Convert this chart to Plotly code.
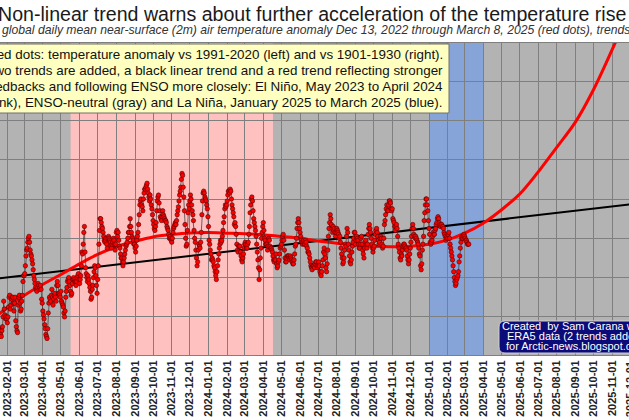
import plotly.graph_objects as go
import pandas as pd

# ---------------- data ----------------
# daily anomaly vs 1991-2020 (deg C), split into segments with their start dates
seg0_start = "2022-12-13"
seg0 = [0.40,0.42,0.39,0.36,0.34,0.37,0.41,0.44,0.43,0.40,0.38,0.35,0.33,0.36,0.39,0.42,0.45,0.47,0.44,0.41,
        0.38,0.36,0.34,0.37,0.40,0.43,0.41,0.38,0.36,0.39,0.42,0.44,0.41,0.38,0.35,0.33,0.32,0.34]
seg1_start = "2023-01-20"
seg1 = [0.33,0.31,0.30,0.33,0.35,0.40,0.48,0.44,0.41,0.39,
        0.40,0.39,0.37,0.40,0.45,0.50,0.51,0.44,0.46,0.49,
        0.50,0.50,0.47,0.43,0.47,0.50,0.38,0.35,0.33,0.32,
        0.46,0.50,0.51,0.47,0.43,0.44,0.48,0.51,0.58,0.61,
        0.61,0.62,0.66,0.71,0.74,0.75,0.78,0.80,0.81,0.78,
        0.74,0.72,0.71,0.69,0.67,0.64,0.61,0.59,0.57,0.55,
        0.54,0.53,0.55,0.57,0.56,0.54,0.55,0.56,0.54,0.49,
        0.47,0.43,0.41,0.39,0.36,0.34,0.31,0.30,0.29,0.34,
        0.42,0.47,0.50,0.49,0.48,0.51,0.54,0.50,0.46,0.49,
        0.51,0.52,0.50,0.48,0.56,0.58,0.56,0.52,0.52,0.51,
        0.50,0.53,0.48,0.47,0.46,0.45,0.42,0.40,0.43,0.50,
        0.53,0.55,0.58,0.59,0.60,0.58,0.56,0.53,0.51,0.52,
        0.57,0.59,0.60,0.59,0.58,0.58,0.56,0.58,0.60,0.61,0.62]
seg2_start = "2023-05-31"
seg2 = [0.59,0.57,0.59,0.61,0.66,0.73,0.72,0.77,0.83,0.86,
        0.73,0.65,0.62,0.60,0.58,0.61,0.59,0.57,0.55,0.53,
        0.49,0.50,0.54,0.56,0.60,0.63,0.66,0.65,0.61,0.56,
        0.52,0.59,0.66,0.77,0.84,0.90,0.90,0.88,0.86,0.85,
        0.83,0.81,0.79,0.78,0.79,0.80,0.77,0.75,0.80,0.81,
        0.80,0.79,0.78,0.76,0.75,0.77,0.78,0.80,0.79,0.77,
        0.74,0.77,0.83,0.84,0.81,0.83,0.79,0.76,0.75,0.72,
        0.70,0.70,0.68,0.66,0.68,0.70,0.72,0.74,0.76,0.77,
        0.78,0.80,0.83,0.83,0.86,0.90,0.86,0.83,0.81,0.80,
        0.79,0.77,0.77,0.75,0.73,0.76,0.79,0.81,0.83,0.87,
        0.92,0.97,0.99,1.00,0.97,0.96,0.94,1.00,1.03,1.05,
        1.05,1.06,1.07,1.08,1.05,1.03,1.01,0.99,1.02,1.00,
        0.97,0.95,0.92,0.89,0.87,0.85,0.84,0.86,0.88]
seg3_start = "2023-10-07"
seg3 = [0.94,0.99,1.01,1.02,0.98,0.94,0.91,0.90,0.89,0.91,
        0.94,0.92,0.91,0.90,0.89,0.89,0.88,0.86,0.85,0.84,
        0.82,0.80,0.81,0.80,0.79,0.78,0.80,0.83,0.85,0.86,
        0.87,0.88,0.87,0.89,0.92,0.94,0.96,0.99,1.02,1.04,
        1.06,1.10,1.13,1.12,1.06,1.01,0.94,0.87,0.80,0.76,
        0.77,0.84,0.93,0.97,0.95,0.99,1.02,1.00,0.97,0.94,
        0.92,0.89,0.84,0.80,0.78,0.74,0.70,0.66,0.68,0.74,
        0.77,0.76,0.75,0.78,0.83,0.92,0.99,1.03,1.04,1.03,
        1.01,1.00,0.99,0.97,0.95,0.91,0.86,0.79,0.77,0.74,
        0.72,0.69,0.70,0.69,0.68,0.66,0.65,0.63,0.61,0.59,
        0.63,0.66,0.69,0.72,0.75,0.77,0.79,0.78,0.79,0.81,
        0.84,0.88,0.91,0.95,0.97,0.96,0.97,0.99,1.02,1.04,
        1.04,1.03,1.05,1.04,1.00,0.97,0.95,0.93,0.91,0.87,0.88]
seg4_start = "2024-02-15"
seg4 = [0.86,0.82,0.77,0.74,0.73,0.76,0.76,0.76,0.73,0.71,
        0.69,0.68,0.70,0.72,0.75,0.77,0.78,0.77,0.75,0.75,
        0.77,0.78,0.82,0.86,0.93,0.97,1.00,1.01,0.99,0.94,
        0.90,0.88,0.86,0.84,0.81,0.77,0.73,0.69,0.65,0.59,
        0.64,0.70,0.75,0.80,0.83,0.86,0.88,0.84,0.80,0.79,
        0.77,0.77,0.77,0.74,0.76,0.80,0.79,0.76,0.75,0.75,
        0.74,0.73,0.71,0.69,0.68,0.69,0.69,0.72,0.67,0.65,
        0.66,0.68,0.69,0.72,0.75,0.76,0.77,0.79,0.81,0.82,
        0.79,0.74,0.70,0.68,0.68,0.70,0.71,0.71,0.71,0.70,
        0.69,0.71,0.70,0.69,0.68,0.67,0.67,0.69,0.72,0.76,
        0.77,0.80,0.85,0.88,0.90,0.88,0.85,0.83,0.81,0.79,
        0.78,0.77,0.78,0.79,0.77,0.77,0.79,0.78,0.76,0.75,
        0.73,0.73,0.72,0.70,0.68,0.66,0.65,0.64,0.66]
seg5_start = "2024-06-23"
seg5 = [0.66,0.66,0.65,0.67,0.68,0.68,0.66,0.65,0.66,0.68,
        0.66,0.63,0.62,0.61,0.63,0.66,0.69,0.73,0.75,0.72,
        0.70,0.65,0.63,0.67,0.74,0.81,0.85,0.88,0.92,0.90,
        0.87,0.85,0.83,0.86,0.84,0.85,0.83,0.81,0.83,0.85,
        0.84,0.83,0.82,0.80,0.81,0.78,0.75,0.72,0.70,0.67,
        0.68,0.70,0.74,0.77,0.76,0.81,0.85,0.83,0.77,0.74,
        0.71,0.68,0.67,0.69,0.73,0.76,0.78,0.80,0.83,0.83,
        0.77,0.79,0.81,0.80,0.79,0.77,0.75,0.75,0.77,0.80,
        0.81,0.77,0.74,0.72,0.70,0.75,0.78,0.79,0.77,0.75,
        0.77,0.82,0.85,0.87,0.85,0.83,0.80,0.77,0.75,0.73,
        0.75,0.76,0.79,0.82,0.84,0.85,0.83,0.81,0.79,0.77,
        0.78,0.80,0.81,0.80,0.77,0.75,0.76,0.80,0.87,0.89,
        0.92,0.95,0.97,0.94,0.94,0.97,0.99,0.99]
seg6_start = "2024-10-29"
seg6 = [0.98,0.95,0.94,0.95,0.90,0.89,0.88,0.86,0.84,0.86,
        0.87,0.85,0.81,0.77,0.75,0.73,0.70,0.69,0.72,0.71,
        0.74,0.76,0.77,0.77,0.76,0.75,0.75,0.74,0.71,0.69,
        0.67,0.69,0.72,0.75,0.78,0.81,0.85,0.87,0.85,0.82,
        0.81,0.80,0.81,0.80,0.79,0.78,0.77,0.75,0.72,0.71,
        0.66,0.64,0.67,0.74,0.77,0.81,0.89,0.93,0.97,1.00,
        1.00,0.97,0.94,0.89,0.85,0.82,0.78,0.77,0.78,0.79,
        0.81,0.83,0.82,0.82,0.84,0.85,0.87,0.88,0.90,0.91,
        0.90,0.88,0.87,0.86,0.87,0.87,0.86,0.86,0.85,0.83,
        0.82,0.81,0.79,0.80,0.81,0.80,0.82,0.83,0.80,0.77,
        0.75,0.73,0.71,0.69,0.66,0.63,0.60,0.58,0.56,0.57,
        0.59,0.60,0.61,0.63,0.68,0.71,0.75,0.78,0.80,0.81,
        0.80,0.81,0.82,0.81,0.80,0.79,0.79,0.78,0.77,0.77,0.77]

segments = [(seg0_start, seg0), (seg1_start, seg1), (seg2_start, seg2), (seg3_start, seg3),
            (seg4_start, seg4), (seg5_start, seg5), (seg6_start, seg6)]

# red (non-linear) trend, read at month starts
red_trend_dates = ["2022-12-13"] + [d.strftime("%Y-%m-%d") for d in pd.date_range("2023-01-01", "2025-12-01", freq="MS")]
red_trend_vals = [0.32, 0.37, 0.448, 0.509, 0.566, 0.616, 0.670, 0.718, 0.757, 0.785, 0.807, 0.819, 0.827,
                  0.829, 0.826, 0.823, 0.818, 0.809, 0.800, 0.786, 0.775, 0.766, 0.759, 0.757, 0.760,
                  0.770, 0.792, 0.826, 0.877, 0.944, 1.027, 1.137, 1.263, 1.391, 1.556, 1.76, 1.97]

# black linear trend
black_trend_dates = ["2022-12-13", "2025-12-31"]
black_trend_vals = [0.583, 0.984]

# ENSO periods
el_nino = ("2023-05-17", "2024-04-17")
la_nina = ("2025-01-01", "2025-04-01")

# last (partly visible) month label, beyond the visible range
edge_tick_label = "2025-12-01"

title_text = "Non-linear trend warns about further acceleration of the temperature rise"
subtitle_text = ("global daily mean near-surface (2m) air temperature anomaly Dec 13, 2022 through "
                 "March 8, 2025 (red dots), trends added")
box_lines = ["Red dots: temperature anomaly vs 1991-2020 (left) and vs 1901-1930 (right).",
             "Two trends are added, a black linear trend and a red trend reflecting stronger",
             "feedbacks and following ENSO more closely: El Niño, May 2023 to April 2024",
             "(pink), ENSO-neutral (gray) and La Niña, January 2025 to March 2025 (blue)."]
credit_lines = ["Created  by Sam Carana with", "ERA5 data (2 trends added)", "for Arctic-news.blogspot.com"]

# ---------------- figure ----------------
W, H = 629, 420
MT, MB = 43, 65
PH = H - MT - MB
FONT = "Liberation Sans, Arial, sans-serif"
X_START = pd.Timestamp("2023-01-19 21:00")
X_END = pd.Timestamp("2025-11-29 00:00")

def px(x):
    return x / W

def py(y):
    return (H - MB - y) / PH

def date_to_paper(d):
    return (pd.Timestamp(d) - X_START) / (X_END - X_START)

dates, vals = [], []
for start, seg in segments:
    dates += list(pd.date_range(start, periods=len(seg), freq="D"))
    vals += seg

fig = go.Figure()
fig.add_trace(go.Scatter(x=black_trend_dates, y=black_trend_vals, mode="lines",
                         line=dict(color="#000000", width=2), hoverinfo="skip"))
fig.add_trace(go.Scatter(x=red_trend_dates, y=red_trend_vals, mode="lines",
                         line=dict(color="#FF0000", width=3, shape="spline"), hoverinfo="skip"))
fig.add_trace(go.Scatter(x=dates, y=vals, mode="lines+markers",
                         line=dict(color="#333333", width=0.7),
                         marker=dict(size=4.4, color="#FF0000", line=dict(color="#550000", width=0.6))))

shapes = [
    dict(type="rect", xref="x", yref="paper", x0=el_nino[0], x1=el_nino[1], y0=0, y1=1,
         fillcolor="#FFC0C0", line=dict(width=0), layer="below"),
    dict(type="rect", xref="x", yref="paper", x0=la_nina[0], x1=la_nina[1], y0=0, y1=1,
         fillcolor="#86A4D8", line=dict(width=0), layer="below"),
    dict(type="rect", xref="paper", yref="paper", x0=px(-5), x1=px(449), y0=py(113), y1=py(44),
         fillcolor="#FFFFC0", line=dict(color="#707070", width=1), layer="above"),
]
# rounded credit box
x0, x1, y0, y1, r = 499, 700, 321, 353, 6
path = (f"M {px(x0+r)},{py(y0)} L {px(x1)},{py(y0)} L {px(x1)},{py(y1)} L {px(x0+r)},{py(y1)} "
        f"Q {px(x0)},{py(y1)} {px(x0)},{py(y1-r)} L {px(x0)},{py(y0+r)} Q {px(x0)},{py(y0)} {px(x0+r)},{py(y0)} Z")
shapes.append(dict(type="path", xref="paper", yref="paper", path=path, fillcolor="#0B0B7A",
                   line=dict(color="#D0D0D0", width=1), layer="above"))

annotations = [
    dict(text=title_text, xref="paper", yref="paper", x=px(-4), y=py(14), xanchor="left", yanchor="middle",
         showarrow=False, font=dict(family=FONT, size=19.6, color="#1A1A1A")),
    dict(text=f"<i>{subtitle_text}</i>", xref="paper", yref="paper", x=px(0), y=py(30), xanchor="left",
         yanchor="middle", showarrow=False, font=dict(family=FONT, size=12.2, color="#333333")),
    dict(text=edge_tick_label, xref="paper", yref="paper", x=date_to_paper(edge_tick_label), y=py(359),
         xanchor="center", yanchor="top", textangle=-90, showarrow=False,
         font=dict(family=FONT, size=11, color="#222222", weight="bold")),
]
box_y = [54, 70.5, 86.5, 102]
for yy, line in zip(box_y, box_lines):
    annotations.append(dict(text=line, xref="paper", yref="paper", x=px(445), y=py(yy), xanchor="right",
                            yanchor="middle", showarrow=False,
                            font=dict(family=FONT, size=13.4, color="#111111")))
credit_pos = [(500, 326), (505, 336), (504, 345.5)]
for (cx, cy), line in zip(credit_pos, credit_lines):
    annotations.append(dict(text=line, xref="paper", yref="paper", x=px(cx), y=py(cy), xanchor="left",
                            yanchor="middle", showarrow=False, font=dict(family=FONT, size=11, color="white")))

fig.update_layout(
    width=W, height=H,
    margin=dict(l=0, r=0, t=MT, b=MB, pad=0, autoexpand=False),
    paper_bgcolor="white", plot_bgcolor="#B3B3B3",
    showlegend=False,
    shapes=shapes, annotations=annotations,
    xaxis=dict(type="date", range=[X_START, X_END], automargin=False,
               tick0="2023-01-01", dtick="M1", tickformat="%Y-%m-%d", tickangle=-90,
               tickfont=dict(family=FONT, size=11, color="#222222", weight="bold"),
               showgrid=True, gridcolor="#7F7F7F", gridwidth=1, ticks="",
               showline=True, mirror=True, linecolor="#7F7F7F", linewidth=1, zeroline=False),
    yaxis=dict(range=[0.206, 1.794], tick0=0, dtick=0.2, showticklabels=False, automargin=False,
               showgrid=True, gridcolor="#7F7F7F", gridwidth=1, zeroline=False, ticks=""),
)

fig.write_html("out.html", config={"displayModeBar": False},
               post_script="document.body.style.margin='0px';")
